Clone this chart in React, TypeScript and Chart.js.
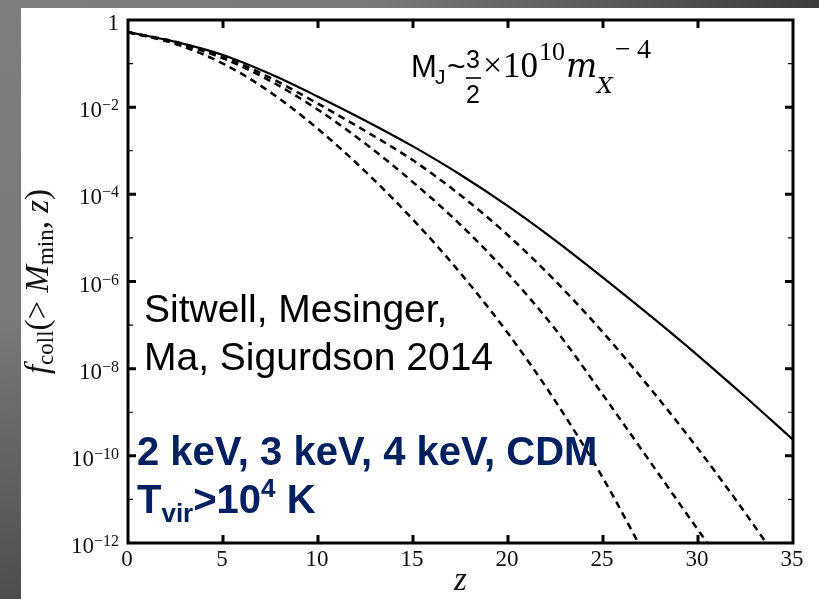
import React, { useEffect, useRef } from "react";
import { Chart, registerables } from "chart.js";

Chart.register(...registerables);

// ---- data ----
const zCDM = [0, 2.5, 5, 7.5, 10, 12.5, 15, 17.5, 20, 22.5, 25, 27.5, 30, 32.5, 35];
const fCDM = [0.525, 0.316, 0.158, 0.0575, 0.0174, 0.0049, 0.00126, 2.82e-4, 5.37e-5, 8.71e-6, 1.23e-6, 1.62e-7, 2.0e-8, 2.24e-9, 2.34e-10];

const z4keV = [0, 2.5, 5, 7.5, 10, 12.5, 15, 17.5, 20, 22.5, 25, 27.5, 30, 32.5, 33.8];
const f4keV = [0.525, 0.316, 0.145, 0.0468, 0.012, 0.00282, 6.03e-4, 9.55e-5, 1.15e-5, 1.02e-6, 6.76e-8, 3.47e-9, 1.45e-10, 4.79e-12, 7.4e-13];

const z3keV = [0, 2.5, 5, 7.5, 10, 12.5, 15, 17.5, 20, 22.5, 25, 27.5, 30, 30.7];
const f3keV = [0.525, 0.302, 0.132, 0.0398, 0.0087, 0.00145, 1.9e-4, 2.0e-5, 1.51e-6, 7.9e-8, 2.5e-9, 7.1e-11, 2.0e-12, 7.4e-13];

const z2keV = [0, 2.5, 5, 7.5, 10, 12.5, 15, 17.5, 20, 22.5, 25, 27];
const f2keV = [0.525, 0.282, 0.1, 0.0219, 0.00316, 3.31e-4, 2.63e-5, 1.55e-6, 6.46e-8, 1.78e-9, 3.09e-11, 7.8e-13];

const xTickValues = [0, 5, 10, 15, 20, 25, 30, 35];
const xTickLabels = ["0", "5", "10", "15", "20", "25", "30", "35"];
const yMajorExps = [0, -2, -4, -6, -8, -10, -12];
const yMinorExps = [-1, -3, -5, -7, -9, -11];

const SERIF = '"Liberation Serif", "Times New Roman", serif';
const MATHI = '"DejaVu Serif", serif';
const SANS = '"Liberation Sans", Arial, sans-serif';
const NAVY = "#002060";

type Piece = { t: string; font: string; dy: number };

function pts(zs: number[], fs: number[]) {
  return zs.map((z, i) => ({ x: z, y: fs[i] }));
}

function drawRun(ctx: CanvasRenderingContext2D, pieces: Piece[], x0: number, y0: number) {
  let x = x0;
  for (const p of pieces) {
    ctx.font = p.font;
    ctx.fillText(p.t, x, y0 + p.dy);
    x += ctx.measureText(p.t).width;
  }
  return x;
}

function runWidth(ctx: CanvasRenderingContext2D, pieces: Piece[]) {
  let w = 0;
  for (const p of pieces) {
    ctx.font = p.font;
    w += ctx.measureText(p.t).width;
  }
  return w;
}

const decor = {
  id: "decor",
  afterDatasetsDraw(chart: any) {
    const { ctx, chartArea: a, scales } = chart;
    const xs = scales.x;
    const ys = scales.y;
    ctx.save();
    ctx.fillStyle = "#000";
    ctx.strokeStyle = "#000";

    // frame
    ctx.lineWidth = 3;
    ctx.strokeRect(a.left, a.top, a.right - a.left, a.bottom - a.top);

    // x ticks (bottom & top)
    ctx.lineWidth = 3;
    for (const v of xTickValues) {
      if (v === xTickValues[0] || v === xTickValues[xTickValues.length - 1]) continue;
      const px = xs.getPixelForValue(v);
      ctx.beginPath();
      ctx.moveTo(px, a.bottom);
      ctx.lineTo(px, a.bottom - 8);
      ctx.moveTo(px, a.top);
      ctx.lineTo(px, a.top + 8);
      ctx.stroke();
    }
    // y ticks
    for (const e of yMajorExps) {
      if (e === 0 || e === -12) continue;
      const py = ys.getPixelForValue(Math.pow(10, e));
      ctx.lineWidth = 3;
      ctx.beginPath();
      ctx.moveTo(a.left, py);
      ctx.lineTo(a.left + 8, py);
      ctx.moveTo(a.right, py);
      ctx.lineTo(a.right - 8, py);
      ctx.stroke();
    }
    for (const e of yMinorExps) {
      const py = ys.getPixelForValue(Math.pow(10, e));
      ctx.lineWidth = 1.2;
      ctx.beginPath();
      ctx.moveTo(a.left, py);
      ctx.lineTo(a.left + 5, py);
      ctx.moveTo(a.right, py);
      ctx.lineTo(a.right - 5, py);
      ctx.stroke();
    }

    // x tick labels
    ctx.fillStyle = "#111";
    ctx.font = `23px ${SERIF}`;
    ctx.textAlign = "center";
    ctx.textBaseline = "alphabetic";
    xTickValues.forEach((v, i) => {
      const px = xs.getPixelForValue(v);
      ctx.fillText(xTickLabels[i], px - 1, a.bottom + 23);
    });

    // y tick labels
    ctx.textAlign = "right";
    const rx = a.left - 9;
    for (const e of yMajorExps) {
      const py = ys.getPixelForValue(Math.pow(10, e));
      if (e === 0) {
        ctx.font = `23px ${SERIF}`;
        ctx.fillText("1", rx, py + 10);
      } else {
        const exp = "\u2212" + String(-e);
        ctx.font = `16px ${SERIF}`;
        const ew = ctx.measureText(exp).width;
        ctx.fillText(exp, rx, py + 3);
        ctx.font = `23px ${SERIF}`;
        ctx.fillText("10", rx - ew, py + 10);
      }
    }

    // x axis title
    ctx.textAlign = "center";
    ctx.font = `italic 33px ${SERIF}`;
    ctx.fillText("z", (a.left + a.right) / 2, a.bottom + 47);

    // y axis title (rotated)
    const yl: Piece[] = [
      { t: "f", font: `italic 33px ${SERIF}`, dy: 0 },
      { t: "coll", font: `23px ${SERIF}`, dy: 5 },
      { t: "(> ", font: `33px ${SERIF}`, dy: 0 },
      { t: "M", font: `italic 33px ${SERIF}`, dy: 0 },
      { t: "min", font: `23px ${SERIF}`, dy: 5 },
      { t: ", ", font: `33px ${SERIF}`, dy: 0 },
      { t: "z", font: `italic 33px ${SERIF}`, dy: 0 },
      { t: ")", font: `33px ${SERIF}`, dy: 0 },
    ];
    ctx.save();
    ctx.translate(a.left - 80, (a.top + a.bottom) / 2);
    ctx.rotate(-Math.PI / 2);
    ctx.textAlign = "left";
    const w = runWidth(ctx, yl);
    drawRun(ctx, yl, -w / 2, 0);
    ctx.restore();

    // ---- annotations ----
    ctx.textAlign = "left";
    ctx.fillStyle = "#000";
    ctx.font = `39px ${SANS}`;
    ctx.fillText("Sitwell, Mesinger,", 144, 322);
    ctx.fillText("Ma, Sigurdson 2014", 144, 370);

    ctx.fillStyle = NAVY;
    ctx.font = `bold 40px ${SANS}`;
    ctx.fillText("2 keV, 3 keV, 4 keV, CDM", 137, 465);
    drawRun(
      ctx,
      [
        { t: "T", font: `bold 40px ${SANS}`, dy: 0 },
        { t: "vir", font: `bold 26px ${SANS}`, dy: 9 },
        { t: ">10", font: `bold 40px ${SANS}`, dy: 0 },
        { t: "4", font: `bold 26px ${SANS}`, dy: -16 },
        { t: " K", font: `bold 40px ${SANS}`, dy: 0 },
      ],
      137,
      513
    );

    // M_J formula
    ctx.fillStyle = "#000";
    ctx.font = `31px ${SANS}`;
    ctx.fillText("M", 411, 77);
    ctx.font = `21px ${SANS}`;
    ctx.fillText("J", 435, 84);
    ctx.font = `32px ${SANS}`;
    ctx.fillText("~", 447, 77);
    ctx.textAlign = "center";
    ctx.font = `25px ${SANS}`;
    ctx.fillText("3", 473, 68);
    ctx.fillText("2", 473, 103);
    ctx.lineWidth = 1.6;
    ctx.beginPath();
    ctx.moveTo(466, 78);
    ctx.lineTo(481, 78);
    ctx.stroke();
    ctx.textAlign = "left";
    ctx.font = `34px ${SERIF}`;
    ctx.fillText("\u00d7", 483, 76);
    ctx.font = `35px ${SERIF}`;
    ctx.fillText("10", 503, 77);
    ctx.font = `26px ${SERIF}`;
    ctx.fillText("10", 539, 60);
    ctx.font = `italic 33px ${MATHI}`;
    ctx.fillText("m", 566, 77);
    ctx.font = `italic 22px ${MATHI}`;
    ctx.fillText("X", 597, 93);
    ctx.font = `28px ${SERIF}`;
    ctx.fillText("\u2212", 615, 58);
    ctx.fillText("4", 637, 58);

    ctx.restore();
  },
};

export default function App() {
  const ref = useRef<HTMLCanvasElement | null>(null);

  useEffect(() => {
    if (!ref.current) return;
    const common = {
      fill: false,
      pointRadius: 0,
      borderColor: "#000",
      cubicInterpolationMode: "monotone" as const,
      clip: 0,
    };
    const chart = new Chart(ref.current, {
      type: "line",
      data: {
        datasets: [
          { ...common, label: "CDM", data: pts(zCDM, fCDM), borderWidth: 2.2 },
          { ...common, label: "4 keV", data: pts(z4keV, f4keV), borderWidth: 2.5, borderDash: [7, 5] },
          { ...common, label: "3 keV", data: pts(z3keV, f3keV), borderWidth: 2.5, borderDash: [7, 5] },
          { ...common, label: "2 keV", data: pts(z2keV, f2keV), borderWidth: 2.5, borderDash: [7, 5] },
        ],
      },
      options: {
        responsive: false,
        animation: false,
        devicePixelRatio: 1,
        parsing: false as any,
        layout: { padding: { left: 128, top: 20, right: 26, bottom: 56 } },
        scales: {
          x: { type: "linear", min: 0, max: 35, display: false },
          y: { type: "logarithmic", min: 1e-12, max: 1, display: false },
        },
        plugins: { legend: { display: false }, tooltip: { enabled: false } },
      },
      plugins: [decor],
    });
    return () => chart.destroy();
  }, []);

  return (
    <div
      style={{
        position: "fixed",
        left: 0,
        top: 0,
        width: 819,
        height: 599,
        overflow: "hidden",
        background: "radial-gradient(ellipse 840px 720px at 0 0, #7e7e7e 0%, #787878 45%, #3a3a3a 100%)",
      }}
    >
      <div style={{ position: "absolute", left: 21, top: 8, right: 0, bottom: 0, background: "#fff" }} />
      <canvas ref={ref} width={819} height={599} style={{ position: "absolute", left: 0, top: 0 }} />
    </div>
  );
}
